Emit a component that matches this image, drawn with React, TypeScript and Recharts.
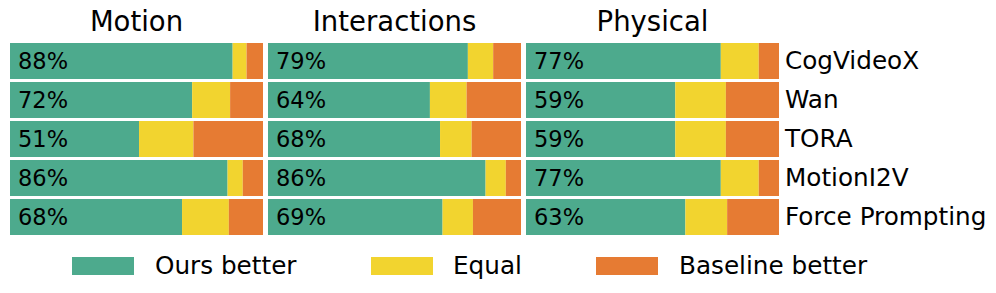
import React from "react";
import { Bar, BarChart, LabelList, XAxis, YAxis } from "recharts";

const models = ["CogVideoX", "Wan", "TORA", "MotionI2V", "Force Prompting"];
const panelTitles = ["Motion", "Interactions", "Physical"];
const seriesNames = ["Ours better", "Equal", "Baseline better"];

// percentages per panel, rows follow `models`
const motionOurs = [88, 72, 51, 86, 68];
const motionEqual = [5.5, 15, 21.5, 6, 18.5];
const motionBaseline = [6.5, 13, 27.5, 8, 13.5];

const interactionsOurs = [79, 64, 68, 86, 69];
const interactionsEqual = [10, 14.5, 12.5, 8, 12];
const interactionsBaseline = [11, 21.5, 19.5, 6, 19];

const physicalOurs = [77, 59, 59, 77, 63];
const physicalEqual = [15, 20, 20, 15, 16.5];
const physicalBaseline = [8, 21, 21, 8, 20.5];

const COLORS = ["#4daa8d", "#f2d42f", "#e67b33"];
const FONT = "'DejaVu Sans', sans-serif";

function rows(ours: number[], equal: number[], baseline: number[]) {
  return models.map((model, i) => ({
    model,
    ours: ours[i],
    equal: equal[i],
    baseline: baseline[i]
  }));
}

const panels = [
  { title: panelTitles[0], data: rows(motionOurs, motionEqual, motionBaseline), left: 10 },
  { title: panelTitles[1], data: rows(interactionsOurs, interactionsEqual, interactionsBaseline), left: 268 },
  { title: panelTitles[2], data: rows(physicalOurs, physicalEqual, physicalBaseline), left: 526 }
];

const PLOT_W = 253;
const AXIS_W = 217;

function Panel({
  title,
  data,
  left,
  showLabels
}: {
  title: string;
  data: ReturnType<typeof rows>;
  left: number;
  showLabels: boolean;
}) {
  const width = PLOT_W + (showLabels ? AXIS_W : 0);
  return (
    <div style={{ position: "absolute", left, top: 0 }}>
      <div
        style={{
          position: "absolute",
          left: 0,
          top: 8,
          width: PLOT_W,
          textAlign: "center",
          fontSize: 27.5,
          lineHeight: "27.5px",
          fontFamily: FONT,
          color: "#000",
          whiteSpace: "nowrap"
        }}
      >
        {title}
      </div>
      <BarChart
        width={width}
        height={240}
        data={data}
        layout="vertical"
        margin={{ top: 41, right: 0, bottom: 4, left: 0 }}
        barSize={36}
      >
        <XAxis type="number" domain={[0, 100]} hide />
        <YAxis
          type="category"
          dataKey="model"
          orientation="right"
          hide={!showLabels}
          width={AXIS_W}
          axisLine={false}
          tickLine={false}
          tickSize={6}
          tickMargin={0}
          tick={{ fill: "#000", fontSize: 24.7, fontFamily: FONT, textAnchor: "start" }}
        />
        <Bar dataKey="ours" stackId="s" fill={COLORS[0]} isAnimationActive={false}>
          <LabelList
            dataKey="ours"
            position="insideLeft"
            offset={8}
            formatter={(v: any) => `${v}%`}
            fill="#000"
            style={{ fontSize: 22.5, fontFamily: FONT }}
          />
        </Bar>
        <Bar dataKey="equal" stackId="s" fill={COLORS[1]} isAnimationActive={false} />
        <Bar dataKey="baseline" stackId="s" fill={COLORS[2]} isAnimationActive={false} />
      </BarChart>
    </div>
  );
}

const legendPos = [
  { swatch: 72, text: 155 },
  { swatch: 371, text: 453 },
  { swatch: 596, text: 679 }
];

export default function App() {
  return (
    <div
      style={{
        position: "absolute",
        left: 0,
        top: 0,
        width: 996,
        height: 293,
        background: "#fff",
        fontFamily: FONT
      }}
    >
      {panels.map((p, i) => (
        <Panel key={p.title} title={p.title} data={p.data} left={p.left} showLabels={i === 2} />
      ))}
      {seriesNames.map((name, i) => (
        <React.Fragment key={name}>
          <div
            style={{
              position: "absolute",
              left: legendPos[i].swatch,
              top: 257,
              width: 62,
              height: 18,
              background: COLORS[i]
            }}
          />
          <div
            style={{
              position: "absolute",
              left: legendPos[i].text,
              top: 254,
              fontSize: 24.7,
              lineHeight: "24.7px",
              color: "#000",
              whiteSpace: "nowrap"
            }}
          >
            {name}
          </div>
        </React.Fragment>
      ))}
    </div>
  );
}
